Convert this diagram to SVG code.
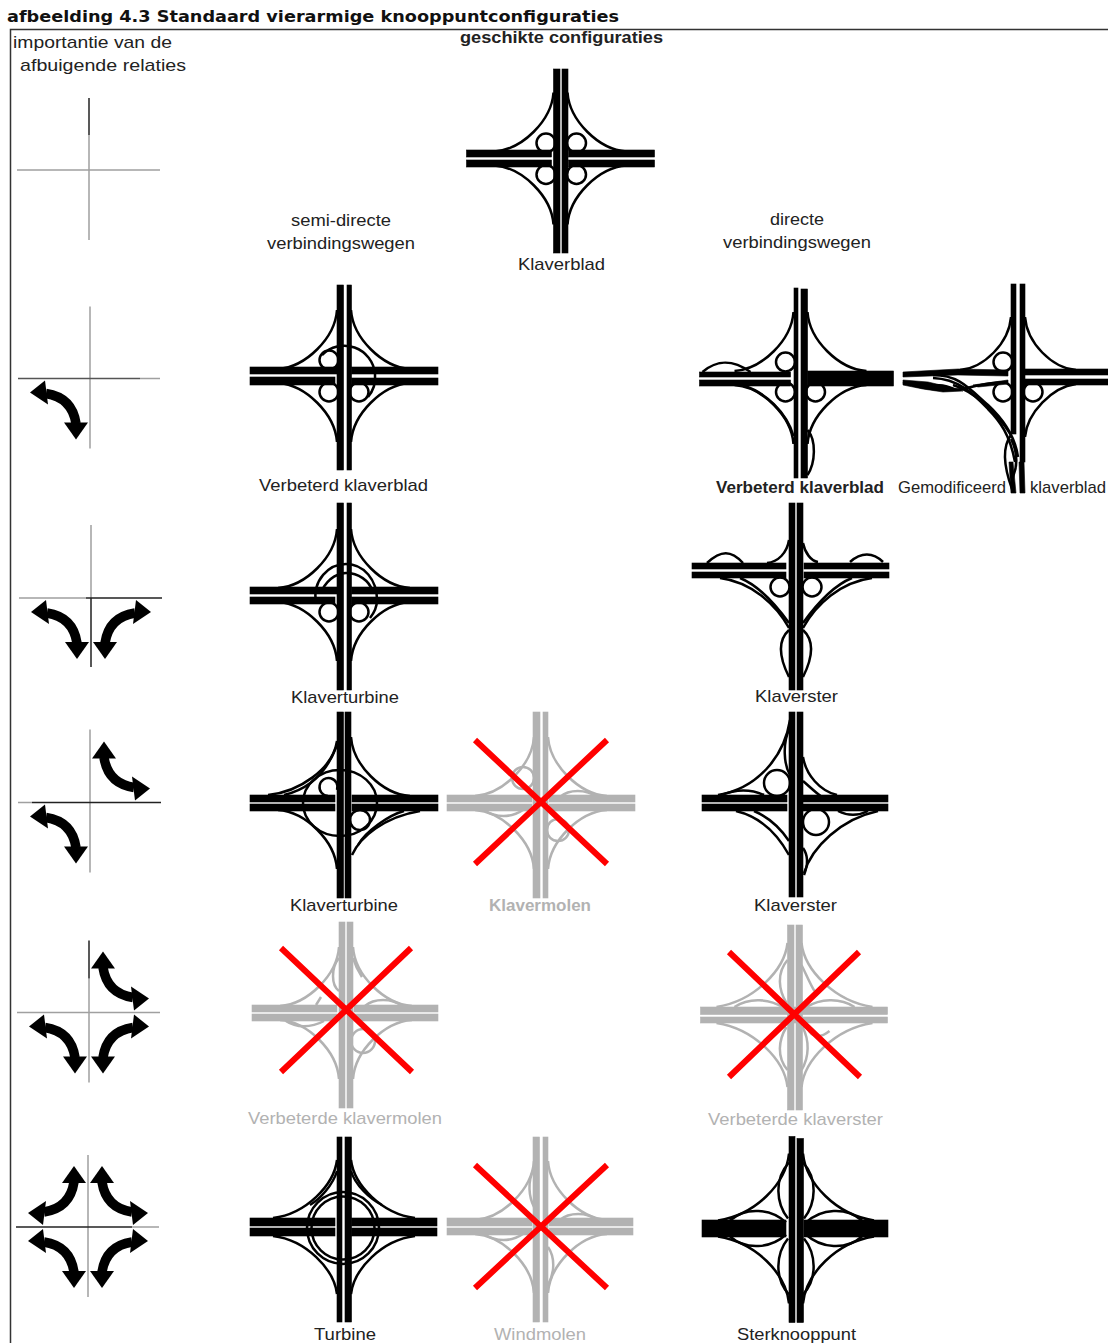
<svg xmlns="http://www.w3.org/2000/svg" width="1108" height="1343" viewBox="0 0 1108 1343">
<style>
.k{color:#000}.g{color:#b2b2b2}
.r{fill:currentColor;stroke:currentColor;stroke-width:.6}
.l{fill:none;stroke:currentColor;stroke-width:2.5}
.x{stroke:#f00;stroke-width:6;fill:none}
text{font-family:"Liberation Sans",Arial,sans-serif;font-size:17px;fill:#222}
.g text,text.gt{fill:#b2b2b2}
.b{font-weight:bold}
.ax{fill:none;stroke-width:1.5}
.dk{stroke:#222}.lt{stroke:#a0a0a0}
</style>
<defs>
<path id="c" class="l" d="M-7,-66 C-9,-38 -38,-9 -66,-7"/>
<g id="c4"><use href="#c"/><use href="#c" transform="scale(-1,1)"/><use href="#c" transform="scale(1,-1)"/><use href="#c" transform="scale(-1,-1)"/></g>
<g id="hb">
<rect class="r" x="-94" y="-8.5" width="85" height="7"/><rect class="r" x="-94" y="1.5" width="85" height="7"/>
<rect class="r" x="8" y="-8.5" width="86" height="7"/><rect class="r" x="8" y="1.5" width="86" height="7"/>
</g>
<g id="ar">
<path d="M-44,15 Q-18,19 -14,45" fill="none" stroke="#000" stroke-width="9.5"/>
<polygon points="-60,14 -45,2 -42,26" fill="#000"/>
<polygon points="-14,61 -26,44 -2,44" fill="#000"/>
</g>
</defs>

<text x="7" y="22" class="b" style="font-family:'DejaVu Sans',sans-serif;font-size:15px;fill:#111" textLength="612" lengthAdjust="spacingAndGlyphs">afbeelding 4.3 Standaard vierarmige knooppuntconfiguraties</text>
<path d="M10.5,1343 V29.5 H1108" fill="none" stroke="#333" stroke-width="1.5"/>
<text x="460" y="43" class="b" textLength="203" lengthAdjust="spacingAndGlyphs">geschikte configuraties</text>
<text x="13" y="48" textLength="159" lengthAdjust="spacingAndGlyphs">importantie van de</text>
<text x="20" y="71" textLength="166" lengthAdjust="spacingAndGlyphs">afbuigende relaties</text>
<text x="291" y="226" textLength="100" lengthAdjust="spacingAndGlyphs">semi-directe</text>
<text x="267" y="249" textLength="148" lengthAdjust="spacingAndGlyphs">verbindingswegen</text>
<text x="770" y="225" textLength="54" lengthAdjust="spacingAndGlyphs">directe</text>
<text x="723" y="248" textLength="148" lengthAdjust="spacingAndGlyphs">verbindingswegen</text>

<g id="importance-row-1" transform="translate(89,170)">
<path class="ax lt" d="M-72,0 H71 M0,-35 V70"/><path class="ax dk" d="M0,-72 V-35"/>
</g>
<g id="importance-row-2" transform="translate(90,378.5)">
<path class="ax lt" d="M50,0 H70 M0,-72 V70"/><path class="ax" stroke="#555" d="M-72,0 H50"/>
<use href="#ar"/>
</g>
<g id="importance-row-3" transform="translate(91,598)">
<path class="ax lt" d="M-72,0 H-5 M0,-73 V0"/><path class="ax dk" d="M-5,0 H71 M0,0 V69"/>
<use href="#ar"/><use href="#ar" transform="scale(-1,1)"/>
</g>
<g id="importance-row-4" transform="translate(90,802.5)">
<path class="ax lt" d="M-72,0 H-58 M0,-73 V70"/><path class="ax dk" d="M-58,0 H71"/>
<use href="#ar"/><use href="#ar" transform="scale(-1,-1)"/>
</g>
<g id="importance-row-5" transform="translate(89,1012.5)">
<path class="ax lt" d="M-72,0 H71 M0,-34 V70"/><path class="ax dk" d="M0,-72 V-34"/>
<use href="#ar"/><use href="#ar" transform="scale(-1,1)"/><use href="#ar" transform="scale(-1,-1)"/>
</g>
<g id="importance-row-6" transform="translate(88,1227)">
<path class="ax lt" d="M44,0 H71 M0,-72 V70"/><path class="ax dk" d="M-72,0 H44"/>
<use href="#ar"/><use href="#ar" transform="scale(-1,1)"/><use href="#ar" transform="scale(-1,-1)"/><use href="#ar" transform="scale(1,-1)"/>
</g>

<g id="klaverblad" class="k">
<g transform="translate(560.5,158.5)"><use href="#c4"/>
<circle class="l" cx="-14.5" cy="-15.5" r="9.5"/><circle class="l" cx="16" cy="-15.5" r="9.5"/><circle class="l" cx="-14.5" cy="16" r="9.5"/><circle class="l" cx="16" cy="16" r="9.5"/>
<rect class="r" x="-7" y="-89.5" width="6.5" height="184"/><rect class="r" x="1.5" y="-89.5" width="6" height="184"/>
<use href="#hb"/></g>
<text x="518" y="270" textLength="87" lengthAdjust="spacingAndGlyphs">Klaverblad</text>
</g>

<g id="verbeterd-klaverblad-semi" class="k">
<g transform="translate(344,376)"><use href="#c4"/>
<circle class="l" cx="-15" cy="-16" r="9.5"/><circle class="l" cx="-15" cy="16" r="9.5"/><circle class="l" cx="15" cy="16" r="9.5"/>
<path class="l" d="M-22,-21 A31,31 0 0 1 31,-2 A31,31 0 0 1 24,21"/>
<rect class="r" x="-7" y="-91" width="6.5" height="185"/><rect class="r" x="3" y="-91" width="4.5" height="185"/>
<rect class="r" x="-94" y="-9" width="87" height="7"/><rect class="r" x="-94" y="1" width="85" height="8"/>
<rect class="r" x="7.5" y="-9" width="86.5" height="7"/><rect class="r" x="7.5" y="2" width="86.5" height="7"/>
</g>
<text x="259" y="491" textLength="169" lengthAdjust="spacingAndGlyphs">Verbeterd klaverblad</text>
</g>

<g id="verbeterd-klaverblad-direct" class="k">
<g transform="translate(800.5,378)"><use href="#c4"/>
<path class="l" d="M-7,58 C-14,34 -36,14 -56,8"/>
<circle class="l" cx="-15" cy="-16" r="9.5"/><circle class="l" cx="-15" cy="14" r="9.5"/><circle class="l" cx="15" cy="14" r="9.5"/>
<path class="l" d="M-98,-6 C-85,-17 -70,-20 -50,-6"/>
<path class="l" d="M7,52 C16,62 15,85 7,97"/>
<rect class="r" x="-6.5" y="-90" width="4" height="190"/><rect class="r" x="0.5" y="-89" width="6.5" height="189"/>
<rect class="r" x="-101" y="-6" width="91" height="5"/><rect class="r" x="-101" y="2" width="91" height="6"/>
<rect class="r" x="7" y="-7" width="86" height="15"/>
</g>
<text x="716" y="493" class="b" textLength="168" lengthAdjust="spacingAndGlyphs">Verbeterd klaverblad</text>
</g>

<g id="gemodificeerd-klaverblad" class="k">
<g transform="translate(1018,377)">
<path class="l" d="M-7,-60 C-9,-34 -34,-9 -58,-7"/><path class="l" d="M7,-60 C9,-34 34,-9 58,-7"/>
<path class="l" d="M7,60 C9,36 34,10 58,7"/>
<path class="l" d="M-65,8 C-45,14 -22,34 -7,58"/>
<path class="l" d="M-85,-2 C-60,-2 -50,10 -30,28 C-15,42 -3,58 0,80"/>
<path class="l" d="M-85,1 C-60,2 -45,16 -30,32 C-18,44 -8,58 -3,85"/>
<path class="l" d="M-7,58 C-16,70 -14,90 -6,112"/>
<path class="l" d="M-7,62 C1,78 -1,90 -5,100"/>
<path class="l" d="M-115,5 C-90,14 -70,14 -55,12 C-40,8 -25,5 -10,5"/>
<path class="l" d="M-85,9 C-78,7 -70,9 -62,13"/>
<circle class="l" cx="-15" cy="-15" r="9.5"/><circle class="l" cx="-15" cy="15" r="9.5"/><circle class="l" cx="15" cy="15" r="9.5"/>
<rect class="r" x="-7" y="-93" width="5" height="150"/><rect class="r" x="2" y="-93" width="5" height="178"/>
<polygon class="r" points="-115,-5 -60,-8 -10,-7 -10,-1 -60,-2 -115,0"/>
<polygon class="r" points="-115,3 -90,5 -60,12 -55,14 -75,15 -95,12 -115,8"/>
<polygon class="r" points="-45,8 -10,3 -10,7 -40,10"/>
<rect class="r" x="7" y="-8" width="83" height="6"/><rect class="r" x="7" y="2" width="83" height="6"/>
<polygon class="r" points="-9,85 -5,85 -2,116 -7,116"/><polygon class="r" points="1,85 6,85 7,116 2,116"/>
</g>
<text x="898" y="493" textLength="108" lengthAdjust="spacingAndGlyphs">Gemodificeerd</text>
<text x="1030" y="493" textLength="76" lengthAdjust="spacingAndGlyphs">klaverblad</text>
</g>

<g id="klaverturbine-1" class="k">
<g transform="translate(344,595)"><use href="#c4"/>
<circle class="l" cx="-15" cy="17" r="9.5"/><circle class="l" cx="15" cy="17" r="9.5"/>
<path class="l" d="M-28,8 C-32,-15 -15,-31 2,-31 C20,-31 33,-15 33,5 C33,12 30,18 26,23"/>
<path class="l" d="M-22,-5 C-15,-18 -5,-22 2,-22 C15,-22 25,-14 28,-5"/>
<rect class="r" x="-7" y="-92" width="6.5" height="187"/><rect class="r" x="3" y="-92" width="4.5" height="187"/>
<rect class="r" x="-94" y="-8" width="87" height="7"/><rect class="r" x="-94" y="2" width="85" height="7"/>
<rect class="r" x="7.5" y="-8" width="86.5" height="7"/><rect class="r" x="7.5" y="2" width="86.5" height="7"/>
</g>
<text x="291" y="703" textLength="108" lengthAdjust="spacingAndGlyphs">Klaverturbine</text>
</g>

<g id="klaverster-1" class="k">
<g transform="translate(796,570)">
<path class="l" d="M-7,-30 C-9,-17 -18,-8 -29,-7"/><path class="l" d="M7,-27 C9,-17 15,-9 22,-8"/>
<path class="l" d="M-89,-7 C-75,-20 -65,-20 -53,-7"/><path class="l" d="M54,-8 C65,-18 77,-18 87,-8"/>
<path class="l" d="M-76,8 C-45,12 -20,34 -7,58"/><path class="l" d="M-56,8 C-36,16 -20,35 -7,53"/>
<path class="l" d="M76,8 C45,12 20,34 7,58"/><path class="l" d="M56,8 C36,16 20,35 7,53"/>
<circle class="l" cx="-16" cy="17" r="9.5"/><circle class="l" cx="16" cy="17" r="9.5"/>
<path class="l" d="M-7,60 C-18,70 -18,85 -7,107"/><path class="l" d="M7,60 C18,70 18,85 7,107"/>
<rect class="r" x="-7" y="-67" width="6" height="187"/><rect class="r" x="1" y="-67" width="6" height="187"/>
<rect class="r" x="-104" y="-7" width="94" height="6"/><rect class="r" x="-104" y="2" width="94" height="6"/>
<rect class="r" x="8" y="-7" width="85" height="6"/><rect class="r" x="8" y="2" width="85" height="6"/>
</g>
<text x="755" y="702" textLength="83" lengthAdjust="spacingAndGlyphs">Klaverster</text>
</g>

<g id="klaverturbine-2" class="k">
<g transform="translate(344,803)">
<path class="l" d="M-7,-62 C-11,-34 -45,-11 -76,-8"/><path class="l" d="M-3,-72 C-11,-38 -30,-15 -60,-8"/>
<path class="l" d="M7,-66 C9,-38 38,-9 66,-7"/><path class="l" d="M-7,66 C-9,38 -38,9 -66,7"/>
<path class="l" d="M8,52 C16,34 40,14 76,8"/><path class="l" d="M14,42 C22,28 45,12 60,8"/>
<ellipse class="l" cx="-4" cy="0" rx="37" ry="33"/>
<path class="l" d="M-7,-13 A9,9 0 1 0 -16,-7"/><circle class="l" cx="16" cy="17" r="10"/>
<rect class="r" x="-7" y="-91" width="6.5" height="186"/><rect class="r" x="1" y="-91" width="6" height="186"/>
<rect class="r" x="-94" y="-8" width="85" height="7"/><rect class="r" x="-94" y="1" width="85" height="7"/>
<rect class="r" x="8" y="-8" width="86" height="7"/><rect class="r" x="8" y="1" width="86" height="7"/>
</g>
<text x="290" y="911" textLength="108" lengthAdjust="spacingAndGlyphs">Klaverturbine</text>
</g>

<g id="klavermolen" class="g">
<g transform="translate(541,803)"><use href="#c4"/>
<circle class="l" cx="-18" cy="-25" r="11"/><circle class="l" cx="17" cy="27" r="11"/>
<path class="l" d="M19,-6 C28,-14 45,-14 56,-6"/><path class="l" d="M-57,7 C-45,15 -30,15 -18,7"/>
<rect class="r" x="-8" y="-91" width="7" height="186"/><rect class="r" x="2" y="-91" width="5" height="186"/>
<rect class="r" x="-94" y="-8" width="85" height="7"/><rect class="r" x="-94" y="1" width="85" height="7"/>
<rect class="r" x="8" y="-8" width="86" height="7"/><rect class="r" x="8" y="1" width="86" height="7"/>
</g>
<path class="x" d="M475,740 L607,864 M607,740 L475,864"/>
<text x="489" y="911" class="b" textLength="102" lengthAdjust="spacingAndGlyphs">Klavermolen</text>
</g>

<g id="klaverster-2" class="k">
<g transform="translate(796,803)">
<path class="l" d="M-6,-83 C-12,-45 -40,-14 -78,-8"/>
<path class="l" d="M-6,-75 C-14,-60 -12,-38 -6,-28"/>
<circle class="l" cx="-19" cy="-20" r="13"/>
<path class="l" d="M-75,-8 C-60,-14 -45,-14 -32,-8"/>
<path class="l" d="M7,-46 C10,-28 24,-12 41,-8"/><path class="l" d="M7,-22 C14,-16 20,-10 26,-6"/>
<path class="l" d="M-60,8 C-35,14 -18,32 -7,52"/><path class="l" d="M-42,8 C-28,14 -15,26 -7,38"/>
<path class="l" d="M8,70 C16,44 45,16 82,8"/>
<circle class="l" cx="20" cy="19" r="13"/>
<path class="l" d="M7,45 C12,52 12,62 8,72"/>
<path class="l" d="M42,8 C52,13 62,13 72,8"/>
<rect class="r" x="-7" y="-91" width="6" height="185"/><rect class="r" x="1" y="-91" width="6" height="185"/>
<rect class="r" x="-94" y="-8" width="85" height="7"/><rect class="r" x="-94" y="1" width="85" height="7"/>
<rect class="r" x="7" y="-8" width="85" height="7"/><rect class="r" x="7" y="1" width="85" height="7"/>
</g>
<text x="754" y="911" textLength="83" lengthAdjust="spacingAndGlyphs">Klaverster</text>
</g>

<g id="verbeterde-klavermolen" class="g">
<g transform="translate(346,1013)"><use href="#c4"/>
<path class="l" d="M-7,-55 C-15,-45 -15,-28 -7,-22"/><path class="l" d="M7,-55 C9,-48 12,-42 16,-36"/>
<path class="l" d="M19,-7 C28,-15 46,-15 56,-7"/><path class="l" d="M-60,8 C-50,15 -35,15 -22,8"/>
<path class="l" d="M-30,-8 L-25,-16"/>
<circle class="l" cx="17" cy="28" r="12"/>
<rect class="r" x="-7" y="-91" width="6" height="186"/><rect class="r" x="1" y="-91" width="6" height="186"/>
<rect class="r" x="-94" y="-8" width="85" height="7"/><rect class="r" x="-94" y="1" width="85" height="7"/>
<rect class="r" x="8" y="-8" width="84" height="7"/><rect class="r" x="8" y="1" width="84" height="7"/>
</g>
<path class="x" d="M281,948 L412,1072 M411,948 L281,1072"/>
<text x="248" y="1124" textLength="194" lengthAdjust="spacingAndGlyphs">Verbeterde klavermolen</text>
</g>

<g id="verbeterde-klaverster" class="g">
<g transform="translate(794.5,1015)">
<path class="l" d="M-7,-72 C-10,-45 -40,-14 -78,-8"/><path class="l" d="M7,-72 C10,-45 40,-14 78,-8"/>
<path class="l" d="M-7,72 C-10,45 -40,14 -78,8"/><path class="l" d="M7,72 C10,45 40,14 78,8"/>
<path class="l" d="M-7,-55 C-18,-42 -16,-25 -8,-12"/>
<path class="l" d="M-60,-8 C-45,-18 -25,-16 -12,-8"/><path class="l" d="M60,-8 C45,-18 25,-16 12,-8"/>
<path class="l" d="M7,-50 C12,-40 16,-30 20,-24"/>
<path class="l" d="M-7,55 C-18,42 -16,25 -8,12"/><path class="l" d="M7,55 C15,42 15,25 8,12"/>
<path class="l" d="M12,8 C14,22 24,25 35,16"/>
<rect class="r" x="-7" y="-90" width="6.5" height="185"/><rect class="r" x="1.5" y="-90" width="6.5" height="185"/>
<rect class="r" x="-94" y="-8" width="187" height="7.5"/><rect class="r" x="-94" y="2" width="187" height="6"/>
</g>
<path class="x" d="M729,952 L860,1077 M859,952 L729,1077"/>
<text x="708" y="1125" textLength="175" lengthAdjust="spacingAndGlyphs">Verbeterde klaverster</text>
</g>

<g id="turbine" class="k">
<g transform="translate(344,1227)">
<path class="l" d="M-7,-67 C-10,-42 -38,-13 -71,-9"/><path class="l" d="M7,-67 C10,-42 38,-13 71,-9"/>
<path class="l" d="M-7,67 C-10,42 -38,13 -71,9"/><path class="l" d="M7,67 C10,42 38,13 71,9"/>
<circle class="l" cx="-1" cy="1" r="36"/><circle class="l" cx="-1" cy="1" r="31.5"/>
<path class="l" d="M7,-56 C11,-42 26,-28 38,-22"/><path class="l" d="M-7,-56 C-11,-42 -24,-28 -34,-22"/>
<rect class="r" x="-7" y="-90" width="5" height="185"/><rect class="r" x="1" y="-90" width="6.5" height="185"/>
<rect class="r" x="-94" y="-9" width="85" height="8"/><rect class="r" x="-94" y="1" width="85" height="8"/>
<rect class="r" x="7.5" y="-9" width="85.5" height="8"/><rect class="r" x="7.5" y="1" width="85.5" height="8"/>
</g>
<text x="314" y="1340" textLength="62" lengthAdjust="spacingAndGlyphs">Turbine</text>
</g>

<g id="windmolen" class="g">
<g transform="translate(541,1227)"><use href="#c4"/>
<path class="l" d="M-7,-58 C-14,-45 -12,-30 -7,-20"/><path class="l" d="M7,58 C14,45 14,30 7,20"/>
<path class="l" d="M19,-7 C28,-15 46,-15 56,-7"/><path class="l" d="M-57,7 C-45,15 -30,15 -18,7"/>
<rect class="r" x="-8" y="-90" width="6.5" height="185"/><rect class="r" x="2" y="-90" width="5" height="185"/>
<rect class="r" x="-94" y="-9" width="85" height="8"/><rect class="r" x="-94" y="1" width="85" height="7"/>
<rect class="r" x="8" y="-9" width="84" height="8"/><rect class="r" x="8" y="1" width="84" height="7"/>
</g>
<path class="x" d="M475,1165 L607,1288 M607,1165 L475,1288"/>
<text x="494" y="1340" textLength="92" lengthAdjust="spacingAndGlyphs">Windmolen</text>
</g>

<g id="sterknooppunt" class="k">
<g transform="translate(796,1228.5)">
<path class="l" d="M-7,-75 C-10,-45 -40,-14 -78,-8"/><path class="l" d="M7,-75 C10,-45 40,-14 78,-8"/>
<path class="l" d="M-7,75 C-10,45 -40,14 -78,8"/><path class="l" d="M7,75 C10,45 40,14 78,8"/>
<path class="l" d="M-66,-8 C-50,-22 -25,-20 -10,-6"/><path class="l" d="M66,-8 C50,-22 25,-20 10,-6"/>
<path class="l" d="M-66,8 C-50,22 -25,20 -10,6"/><path class="l" d="M66,8 C50,22 25,20 10,6"/>
<path class="l" d="M-7,-66 C-22,-50 -20,-25 -8,-10"/><path class="l" d="M7,-66 C22,-50 20,-25 8,-10"/>
<path class="l" d="M-7,66 C-22,50 -20,25 -8,10"/><path class="l" d="M7,66 C22,50 20,25 8,10"/>
<rect class="r" x="-7" y="-92" width="6" height="186"/><rect class="r" x="1" y="-90" width="6.5" height="184"/>
<rect class="r" x="-94" y="-8.5" width="84" height="17"/><rect class="r" x="8" y="-8.5" width="84" height="17"/>
</g>
<text x="737" y="1340" textLength="119" lengthAdjust="spacingAndGlyphs">Sterknooppunt</text>
</g>
</svg>
